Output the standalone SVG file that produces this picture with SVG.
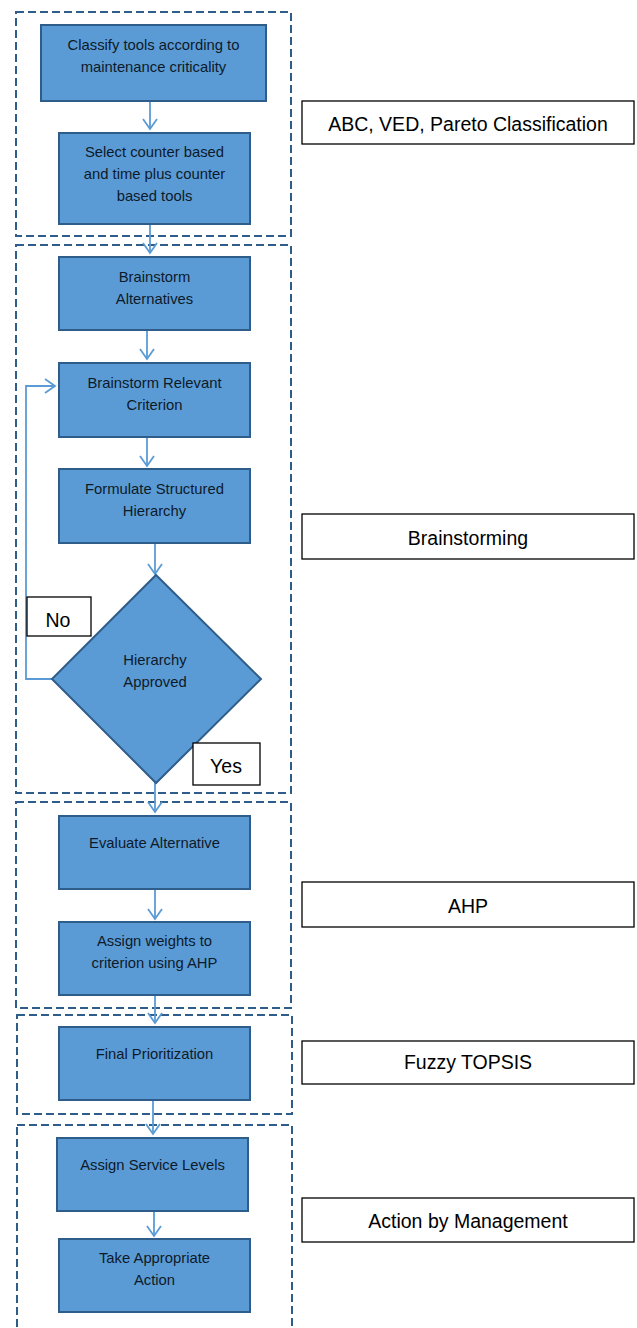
<svg xmlns="http://www.w3.org/2000/svg" width="637" height="1328" viewBox="0 0 637 1328">
<defs>
<marker id="arr" viewBox="-12 -9 14 18" markerWidth="14" markerHeight="18" refX="0" refY="0" orient="auto" markerUnits="userSpaceOnUse">
<path d="M-10,-7 L0,0 L-10,7" fill="none" stroke="#5b9bd5" stroke-width="1.8"/>
</marker>
</defs>
<style>
.grp{fill:none;stroke:#2f5d8a;stroke-width:2;stroke-dasharray:8 4}
.box{fill:#5b9bd5;stroke:#2f5d8a;stroke-width:2}
.t{font-family:"Liberation Sans",Arial,sans-serif;font-size:14.8px;fill:#0d1a2a;text-anchor:middle}
.lbl{fill:#fff;stroke:#000;stroke-width:1.3}
.lt{font-family:"Liberation Sans",Arial,sans-serif;font-size:19.5px;fill:#000;text-anchor:middle}
.c{fill:none;stroke:#5b9bd5;stroke-width:1.8}
</style>
<rect width="637" height="1328" fill="#fff"/>
<g id="groups">
<rect class="grp" x="16" y="12" width="275" height="224"/>
<rect class="grp" x="16" y="245" width="275" height="548"/>
<rect class="grp" x="16" y="802" width="275" height="206"/>
<rect class="grp" x="17" y="1015" width="275" height="99"/>
<rect class="grp" x="17" y="1125" width="275" height="210"/>
</g>
<g id="connectors">
<line class="c" x1="150" y1="101" x2="150" y2="129" marker-end="url(#arr)"/>
<line class="c" x1="150" y1="224" x2="150" y2="253" marker-end="url(#arr)"/>
<line class="c" x1="147" y1="330" x2="147" y2="359" marker-end="url(#arr)"/>
<line class="c" x1="147" y1="437" x2="147" y2="466" marker-end="url(#arr)"/>
<line class="c" x1="155" y1="543" x2="155" y2="574" marker-end="url(#arr)"/>
<polyline class="c" points="52,679 26,679 26,386 55,386" marker-end="url(#arr)"/>
<line class="c" x1="155" y1="783" x2="155" y2="812" marker-end="url(#arr)"/>
<line class="c" x1="155" y1="889" x2="155" y2="919" marker-end="url(#arr)"/>
<line class="c" x1="155" y1="995" x2="155" y2="1023" marker-end="url(#arr)"/>
<line class="c" x1="153" y1="1100" x2="153" y2="1134" marker-end="url(#arr)"/>
<line class="c" x1="154" y1="1211" x2="154" y2="1236" marker-end="url(#arr)"/>
</g>
<g id="n1"><rect class="box" x="41" y="25" width="225" height="76"/>
<text class="t" x="153.5" y="50">Classify tools according to</text>
<text class="t" x="153.5" y="72">maintenance criticality</text></g>
<g id="n2"><rect class="box" x="59" y="133" width="191" height="91"/>
<text class="t" x="154.5" y="157">Select counter based</text>
<text class="t" x="154.5" y="179">and time plus counter</text>
<text class="t" x="154.5" y="201">based tools</text></g>
<g id="n3"><rect class="box" x="59" y="257" width="191" height="73"/>
<text class="t" x="154.5" y="282">Brainstorm</text>
<text class="t" x="154.5" y="304">Alternatives</text></g>
<g id="n4"><rect class="box" x="59" y="363" width="191" height="74"/>
<text class="t" x="154.5" y="388">Brainstorm Relevant</text>
<text class="t" x="154.5" y="410">Criterion</text></g>
<g id="n5"><rect class="box" x="59" y="469" width="191" height="74"/>
<text class="t" x="154.5" y="494">Formulate Structured</text>
<text class="t" x="154.5" y="516">Hierarchy</text></g>
<g id="n6"><polygon class="box" points="156,575 261,679 156,783 52,679"/>
<text class="t" x="155" y="665">Hierarchy</text>
<text class="t" x="155" y="687">Approved</text></g>
<g id="lblNo"><rect class="lbl" x="27" y="597" width="64" height="39"/>
<text class="lt" x="58" y="627">No</text></g>
<g id="lblYes"><rect class="lbl" x="193" y="743" width="67" height="42"/>
<text class="lt" x="226" y="773">Yes</text></g>
<g id="n7"><rect class="box" x="59" y="816" width="191" height="73"/>
<text class="t" x="154.5" y="848">Evaluate Alternative</text></g>
<g id="n8"><rect class="box" x="59" y="922" width="191" height="73"/>
<text class="t" x="154.5" y="946">Assign weights to</text>
<text class="t" x="154.5" y="968">criterion using AHP</text></g>
<g id="n9"><rect class="box" x="59" y="1027" width="191" height="73"/>
<text class="t" x="154.5" y="1059">Final Prioritization</text></g>
<g id="n10"><rect class="box" x="57" y="1138" width="191" height="73"/>
<text class="t" x="152.5" y="1170">Assign Service Levels</text></g>
<g id="n11"><rect class="box" x="59" y="1239" width="191" height="73"/>
<text class="t" x="154.5" y="1263">Take Appropriate</text>
<text class="t" x="154.5" y="1285">Action</text></g>
<g id="r1"><rect class="lbl" x="302" y="101" width="332" height="43"/>
<text class="lt" x="468" y="131">ABC, VED, Pareto Classification</text></g>
<g id="r2"><rect class="lbl" x="302" y="514" width="332" height="45"/>
<text class="lt" x="468" y="545">Brainstorming</text></g>
<g id="r3"><rect class="lbl" x="302" y="882" width="332" height="45"/>
<text class="lt" x="468" y="913">AHP</text></g>
<g id="r4"><rect class="lbl" x="302" y="1041" width="332" height="43"/>
<text class="lt" x="468" y="1069">Fuzzy TOPSIS</text></g>
<g id="r5"><rect class="lbl" x="302" y="1198" width="332" height="44"/>
<text class="lt" x="468" y="1228">Action by Management</text></g>
</svg>
